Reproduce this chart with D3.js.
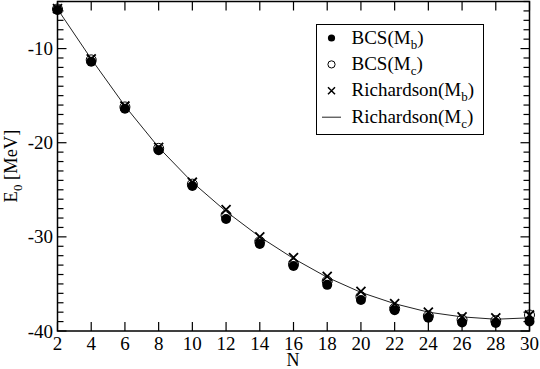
<!DOCTYPE html>
<html>
<head>
<meta charset="utf-8">
<script src="https://cdn.jsdelivr.net/npm/d3@7"></script>
<style>
  body { margin: 0; background: #fff; }
</style>
</head>
<body>
<div class="app"></div>
<script>
'use strict'

// particle number N
var nValues = [2, 4, 6, 8, 10, 12, 14, 16, 18, 20, 22, 24, 26, 28, 30];
// BCS with M_b (filled circles)
var bcsMb = [-5.9, -11.4, -16.4, -20.8, -24.6, -28.1, -30.75, -33.1, -35.1, -36.7, -37.8, -38.6, -39.1, -39.15, -39.0];
// BCS with M_c (open circles)
var bcsMc = [-5.8, -11.2, -16.2, -20.6, -24.4, -27.7, -30.5, -32.9, -34.7, -36.35, -37.6, -38.4, -38.8, -38.9, -38.3];
// Richardson with M_b (crosses)
var richMb = [-5.75, -11.1, -16.1, -20.5, -24.2, -27.1, -30.0, -32.2, -34.2, -35.8, -37.1, -38.0, -38.5, -38.6, -38.3];
// Richardson with M_c (line)
var richMc = [-5.8, -11.1, -16.1, -20.5, -24.2, -27.3, -30.0, -32.3, -34.3, -35.9, -37.1, -38.0, -38.5, -38.75, -38.6];

var xTicks = [2, 4, 6, 8, 10, 12, 14, 16, 18, 20, 22, 24, 26, 28, 30];
var yTicks = [-40, -30, -20, -10];
var yMinor = d3.range(-40, -4, 1);

var serif = "'Liberation Serif', 'Times New Roman', serif";

var width = 540, height = 369;
var plotLeft = 57.5, plotRight = 529.5, plotTop = 1.5, plotBottom = 331;

var x = d3.scaleLinear().domain([2, 30]).range([plotLeft, plotRight]);
var y = d3.scaleLinear().domain([-40, -5]).range([plotBottom, plotTop]);

var svg = d3.select(".app").append("svg")
  .attr("width", width)
  .attr("height", height)
  .style("font-family", serif);

// frame
svg.append("rect")
  .attr("x", plotLeft).attr("y", plotTop)
  .attr("width", plotRight - plotLeft).attr("height", plotBottom - plotTop)
  .attr("fill", "none").attr("stroke", "#000").attr("stroke-width", 1.5);

// ticks (inside), on all four sides
var tickG = svg.append("g").attr("stroke", "#000").attr("stroke-width", 1.2);
xTicks.forEach(function(t) {
  tickG.append("line").attr("x1", x(t)).attr("x2", x(t)).attr("y1", plotBottom).attr("y2", plotBottom - 9);
  tickG.append("line").attr("x1", x(t)).attr("x2", x(t)).attr("y1", plotTop).attr("y2", plotTop + 9);
});
yMinor.forEach(function(t) {
  var len = (t % 10 === 0) ? 9 : 6;
  tickG.append("line").attr("x1", plotLeft).attr("x2", plotLeft + len).attr("y1", y(t)).attr("y2", y(t));
  tickG.append("line").attr("x1", plotRight).attr("x2", plotRight - len).attr("y1", y(t)).attr("y2", y(t));
});

// tick labels
svg.append("g").selectAll("text").data(xTicks).enter().append("text")
  .attr("x", function(d) { return x(d); })
  .attr("y", 349.5)
  .attr("text-anchor", "middle")
  .style("font-family", serif)
  .style("font-size", "19px")
  .text(function(d) { return d; });

svg.append("g").selectAll("text").data(yTicks).enter().append("text")
  .attr("x", 53)
  .attr("y", function(d) { return y(d) + 6.5; })
  .attr("text-anchor", "end")
  .style("font-family", serif)
  .style("font-size", "19px")
  .text(function(d) { return d; });

// axis titles
svg.append("text")
  .attr("x", 293).attr("y", 366)
  .attr("text-anchor", "middle")
  .style("font-family", serif)
  .style("font-size", "18px")
  .text("N");

var yLab = svg.append("text")
  .attr("transform", "translate(17,166) rotate(-90)")
  .attr("text-anchor", "middle")
  .style("font-family", serif)
  .style("font-size", "18.5px");
yLab.append("tspan").text("E");
yLab.append("tspan").attr("dy", 5).style("font-size", "13px").text("0");
yLab.append("tspan").attr("dy", -5).text(" [MeV]");

// series
var plot = svg.append("g");

var line = d3.line()
  .x(function(d, i) { return x(nValues[i]); })
  .y(function(d) { return y(d); });

plot.append("path")
  .attr("d", line(richMc))
  .attr("fill", "none")
  .attr("stroke", "#222")
  .attr("stroke-width", 1);

plot.append("g").selectAll("circle").data(bcsMb).enter().append("circle")
  .attr("cx", function(d, i) { return x(nValues[i]); })
  .attr("cy", function(d) { return y(d); })
  .attr("r", 5)
  .attr("fill", "#000");

plot.append("g").selectAll("circle").data(bcsMc).enter().append("circle")
  .attr("cx", function(d, i) { return x(nValues[i]); })
  .attr("cy", function(d) { return y(d); })
  .attr("r", 5)
  .attr("fill", "none")
  .attr("stroke", "#000")
  .attr("stroke-width", 1);

plot.append("g").selectAll("path").data(richMb).enter().append("path")
  .attr("transform", function(d, i) { return "translate(" + x(nValues[i]) + "," + y(d) + ")"; })
  .attr("d", "M-4.5,-4.5L4.5,4.5M-4.5,4.5L4.5,-4.5")
  .attr("stroke", "#000")
  .attr("stroke-width", 1.8);

// legend
var legend = svg.append("g");
legend.append("rect")
  .attr("x", 316.5).attr("y", 24.5)
  .attr("width", 167).attr("height", 110)
  .attr("fill", "#fff").attr("stroke", "#000").attr("stroke-width", 1);

var entries = [
  {label: "BCS", sub: "b", kind: "filled"},
  {label: "BCS", sub: "c", kind: "open"},
  {label: "Richardson", sub: "b", kind: "cross"},
  {label: "Richardson", sub: "c", kind: "line"}
];

entries.forEach(function(e, i) {
  var cy = 38 + i * 26.4;
  var sx = 331.5;
  if (e.kind === "filled") {
    legend.append("circle").attr("cx", sx).attr("cy", cy).attr("r", 3.6).attr("fill", "#000");
  } else if (e.kind === "open") {
    legend.append("circle").attr("cx", sx).attr("cy", cy).attr("r", 3.6)
      .attr("fill", "none").attr("stroke", "#000").attr("stroke-width", 1);
  } else if (e.kind === "cross") {
    legend.append("path").attr("d", "M" + (sx - 3.5) + "," + (cy - 3.5) + "L" + (sx + 3.5) + "," + (cy + 3.5) +
      "M" + (sx - 3.5) + "," + (cy + 3.5) + "L" + (sx + 3.5) + "," + (cy - 3.5))
      .attr("stroke", "#000").attr("stroke-width", 1.5);
  } else {
    legend.append("line").attr("x1", 322).attr("x2", 341).attr("y1", cy).attr("y2", cy)
      .attr("stroke", "#222").attr("stroke-width", 1);
  }
  var t = legend.append("text")
    .attr("x", 351.5).attr("y", cy + 5.5)
    .style("font-family", serif)
    .style("font-size", "19px");
  t.append("tspan").text(e.label + "(M");
  t.append("tspan").attr("dy", 5).style("font-size", "13px").text(e.sub);
  t.append("tspan").attr("dy", -5).text(")");
});
</script>
</body>
</html>
